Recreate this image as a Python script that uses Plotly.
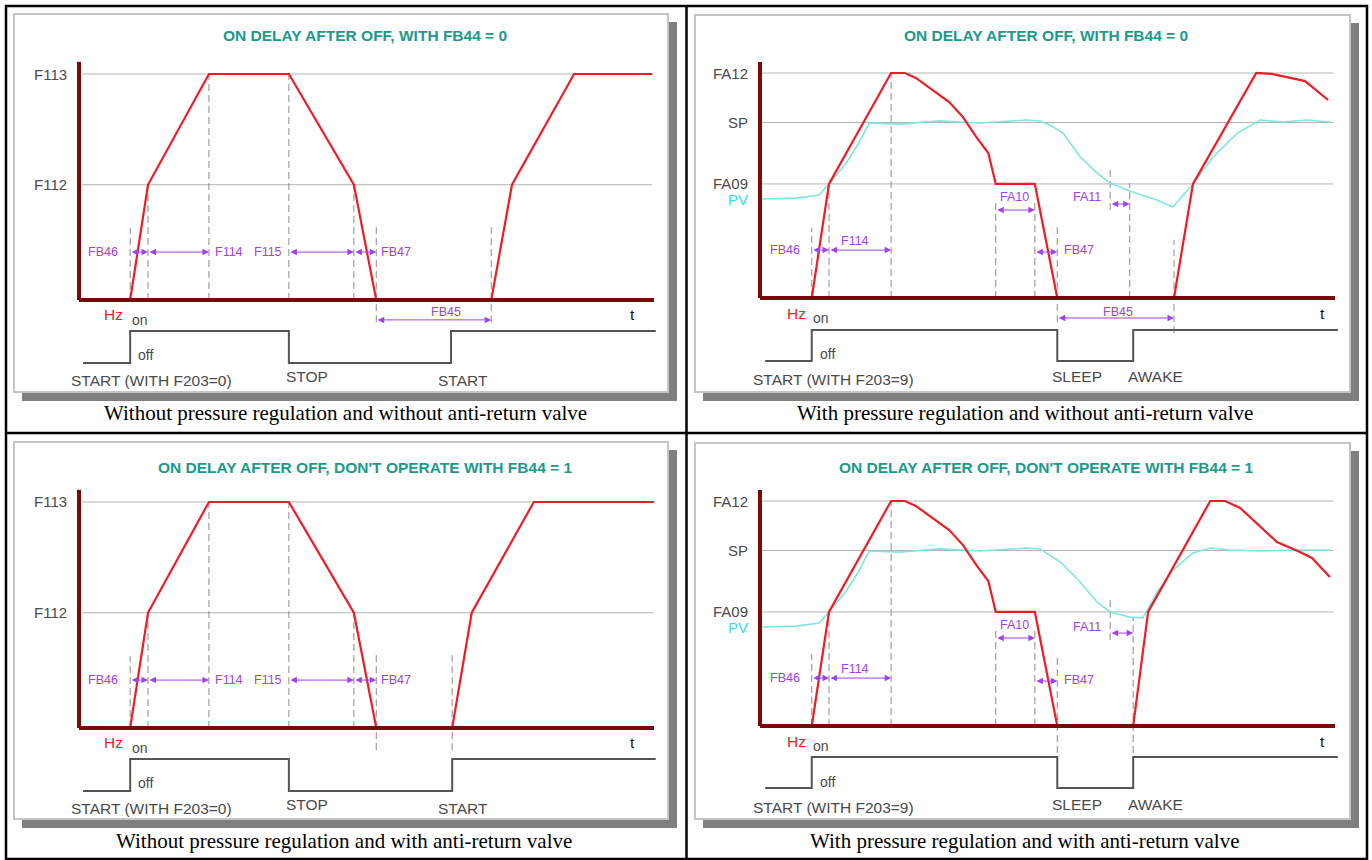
import plotly.graph_objects as go

W, H = 1372, 860

# ---------------- data (t in % of time axis; left: Hz, right: % of FA12) ----------------
F112, F113 = 25.5, 50
FA09, SP, FA12, PV0 = 50.7, 78, 100, 44

# red output frequency
tl_t = [8.9, 12.0, 22.6, 36.5, 47.8, 51.7, 71.7, 75.3, 86.1, 99.7]
tl_hz = [0, F112, F113, F113, F112, 0, 0, F112, F113, F113]
bl_t = [8.9, 12.0, 22.6, 36.5, 47.8, 51.7, 64.9, 68.3, 79.1, 100]
bl_hz = [0, F112, F113, F113, F112, 0, 0, F112, F113, F113]
tr_t = [9.0, 12.0, 22.8, 25.2, 27.1, 30.1, 32.9, 35.3, 37.6, 39.7, 41.0, 47.8, 51.7,
        72.0, 75.3, 86.3, 89.0, 94.8, 98.8]
tr_hz = [0, FA09, FA12, FA12, 97.8, 92.4, 87.1, 80.4, 71.6, 64.4, FA09, FA09, 0,
         0, FA09, FA12, 99.6, 96.4, 88.0]
br_t = [9.0, 12.0, 22.8, 25.2, 27.1, 30.1, 32.9, 35.3, 37.6, 39.7, 41.0, 47.8, 51.7,
        64.9, 67.5, 78.3, 80.9, 83.5, 89.9, 93.9, 96.0, 99.1]
br_hz = [0, FA09, FA12, FA12, 97.8, 92.4, 87.1, 80.4, 71.6, 64.4, FA09, FA09, 0,
         0, FA09, FA12, FA12, 96.9, 81.8, 77.3, 74.7, 66.2]

# cyan process value
tr_pv_t = [0.35, 6.3, 10.3, 12.0, 15.0, 17.2, 19.0, 24.3, 31.3, 38.3, 46.3, 48.7, 50.4,
           52.7, 55.7, 58.6, 60.9, 64.3, 69.0, 71.8, 75.3, 78.8, 83.0, 87.0, 90.9, 95.1, 99.1]
tr_pv = [PV0, 44.4, 45.8, 50.7, 60, 68.9, 77.8, 77.3, 78.7, 77.8, 79.1, 78.7, 76.9,
         73.3, 62.7, 55.6, 51.1, 47.6, 43.6, 40.4, 50.7, 62.7, 73.3, 79.1, 78.2, 79.1, 78.2]
br_pv_t = [0.35, 6.3, 10.3, 12.0, 15.0, 17.2, 19.0, 24.3, 31.3, 38.3, 46.3, 48.7, 52.2,
           55.7, 58.6, 60.9, 64.3, 66.6, 69.0, 71.8, 75.3, 78.3, 81.7, 87.0, 93.9, 99.1]
br_pv = [PV0, 44.4, 45.8, 50.7, 60, 68.9, 77.8, 77.3, 78.7, 77.8, 79.1, 78.7, 72.9,
         64.0, 55.1, 50.7, 48.4, 48.0, 59.1, 69.3, 76.9, 79.1, 78.2, 77.8, 78.2, 78.2]

# start / stop command (1 = on, 0 = off)
sig_state = [0, 0, 1, 1, 0, 0, 1, 1]
tl_sig_t = [0.7, 8.9, 8.9, 36.5, 36.5, 64.7, 64.7, 100.3]
bl_sig_t = [0.7, 8.9, 8.9, 36.5, 36.5, 64.9, 64.9, 100.3]
tr_sig_t = [0.9, 9.0, 9.0, 51.7, 51.7, 64.9, 64.9, 100.5]
br_sig_t = [0.9, 9.0, 9.0, 51.7, 51.7, 64.9, 64.9, 100.5]

# dashed time markers: time, top level, bottom level
tl_mark_t = [8.9, 12.0, 22.6, 36.5, 47.8, 51.7, 71.7]
tl_mark_top = [15.9, F112, F113, F113, F112, 16.6, 16.6]
tl_mark_bot = [0, 0, 0, 0, 0, -4.9, -4.9]
bl_mark_t = [8.9, 12.0, 22.6, 36.5, 47.8, 51.7, 64.9]
bl_mark_top = [15.9, F112, F113, F113, F112, 16.6, 17.0]
bl_mark_bot = [0, 0, 0, 0, 0, -4.9, -4.9]
tr_mark_t = [9.0, 12.0, 22.8, 41.0, 47.8, 51.7, 60.9, 64.3, 72.0]
tr_mark_top = [31.1, FA09, FA12, 43.6, 43.6, 32.4, 56.9, 51.1, 25.8]
tr_mark_bot = [0, 0, 0, 0, 0, -10.7, 39.1, 0, -15.6]
br_mark_t = [9.0, 12.0, 22.8, 41.0, 47.8, 51.7, 60.9, 64.9]
br_mark_top = [32.0, FA09, FA12, 43.6, 43.6, 32.0, 56.9, 48.0]
br_mark_bot = [0, 0, 0, 0, 0, -12.0, 38.2, -12.0]

# timing arrows: start, end, level
tl_arr = [(8.9, 12.0, 10.6), (12.0, 22.6, 10.6), (36.5, 47.8, 10.6), (47.8, 51.7, 10.6), (51.7, 71.7, -4.4)]
bl_arr = [(8.9, 12.0, 10.6), (12.0, 22.6, 10.6), (36.5, 47.8, 10.6), (47.8, 51.7, 10.6)]
tr_arr = [(9.0, 12.0, 21.3), (12.0, 22.8, 21.3), (41.0, 47.8, 39.1), (60.9, 64.3, 41.8),
          (47.8, 51.7, 20.4), (51.7, 72.0, -8.9)]
br_arr = [(9.0, 12.0, 21.3), (12.0, 22.8, 21.3), (41.0, 47.8, 39.1), (60.9, 64.9, 41.3),
          (47.8, 51.7, 20.0)]

# parameter labels
tl_par = [("FB46", 7.1, 10.6, "right"), ("F114", 23.3, 10.6, "left"), ("F115", 35.7, 10.6, "right"),
          ("FB47", 52.2, 10.6, "left"), ("FB45", 63.8, -2.65, "center")]
bl_par = tl_par[:4]
tr_par = [("FB46", 7.3, 21.3, "right"), ("F114", 16.6, 25.3, "center"), ("FA10", 44.3, 44.9, "center"),
          ("FA11", 59.7, 44.9, "right"), ("FB47", 52.5, 21.3, "left"), ("FB45", 62.3, -6.2, "center")]
br_par = [("FB46", 7.3, 21.3, "right"), ("F114", 16.6, 25.3, "center"), ("FA10", 44.3, 44.9, "center"),
          ("FA11", 59.7, 44.0, "right"), ("FB47", 52.5, 20.4, "left")]

left_levels = [("F113", F113), ("F112", F112)]
right_levels = [("FA12", FA12), ("SP", SP), ("FA09", FA09)]

left_words = [("Hz", 6.0, -3.3), ("on", 10.6, -4.4), ("off", 11.5, -12.2), ("t", 96.2, -3.3),
              ("START (WITH F203=0)", 12.6, -17.7), ("STOP", 39.7, -17.0), ("START", 66.8, -17.7)]
right_words = [("Hz", 6.4, -6.7), ("on", 10.6, -8.9), ("off", 11.8, -24.9), ("t", 97.9, -6.7),
               ("START (WITH F203=9)", 12.8, -36.4), ("SLEEP", 55.1, -35.1), ("AWAKE", 68.7, -35.1)]

titles = ["ON DELAY AFTER OFF, WITH FB44 = 0", "ON DELAY AFTER OFF, WITH FB44 = 0",
          "ON DELAY AFTER OFF, DON'T OPERATE WITH FB44 = 1", "ON DELAY AFTER OFF, DON'T OPERATE WITH FB44 = 1"]
captions = ["Without pressure regulation and without anti-return valve",
            "With pressure regulation and without anti-return valve",
            "Without pressure regulation and with anti-return valve",
            "With pressure regulation and with anti-return valve"]

# ---------------- geometry (pixels) ----------------
SX = 5.75
panels = [
    dict(ox=79, oy=300, sy=4.52, hi=331, lo=363, box=(14, 14, 668, 392), ymax=52.7, title=(365, 36), cap=(345, 413),
         red=(tl_t, tl_hz), pv=None, sig=tl_sig_t, marks=(tl_mark_t, tl_mark_top, tl_mark_bot),
         arr=tl_arr, par=tl_par, levels=left_levels, words=left_words, tr=(0.5, 99.7)),
    dict(ox=760, oy=298, sy=2.25, hi=330, lo=361, box=(695, 15, 1350, 392), ymax=104.9, title=(1046, 36), cap=(1025, 413),
         red=(tr_t, tr_hz), pv=(tr_pv_t, tr_pv), sig=tr_sig_t, marks=(tr_mark_t, tr_mark_top, tr_mark_bot),
         arr=tr_arr, par=tr_par, levels=right_levels, words=right_words, tr=(0.3, 99.7)),
    dict(ox=79, oy=728, sy=4.52, hi=759, lo=791, box=(14, 442, 668, 819), ymax=52.7, title=(365, 467), cap=(344, 841),
         red=(bl_t, bl_hz), pv=None, sig=bl_sig_t, marks=(bl_mark_t, bl_mark_top, bl_mark_bot),
         arr=bl_arr, par=bl_par, levels=left_levels, words=left_words, tr=(0.5, 100)),
    dict(ox=760, oy=726, sy=2.25, hi=757, lo=788, box=(695, 443, 1350, 819), ymax=104.9, title=(1046, 467), cap=(1025, 841),
         red=(br_t, br_hz), pv=(br_pv_t, br_pv), sig=br_sig_t, marks=(br_mark_t, br_mark_top, br_mark_bot),
         arr=br_arr, par=br_par, levels=right_levels, words=right_words, tr=(0.3, 99.7)),
]

SANS = "Liberation Sans, Arial, sans-serif"
SERIF = "Liberation Serif, Times New Roman, serif"
GRAY_TXT = "#4a4a4a"
PURPLE = "#a040f0"
RED = "#ee1d25"
MAROON = "#7a0a0a"
CYAN = "#7fe6df"
TEAL = "#1b9a8c"

fig = go.Figure()
shapes, annos, layout = [], [], {}

def px(x):
    return x / W

def py(y):
    return 1 - y / H

for i, p in enumerate(panels):
    n = i + 1
    sfx = "" if n == 1 else str(n)
    xr, yr, sr = "x" + sfx, "y" + sfx, "y" + str(n + 4)
    bx0, by0, bx1, by1 = p["box"]
    ox, oy, sy, hi, lo = p["ox"], p["oy"], p["sy"], p["hi"], p["lo"]
    dom_y = [py(by1), py(by0)]
    layout["xaxis" + sfx] = dict(domain=[px(bx0), px(bx1)], range=[(bx0 - ox) / SX, (bx1 - ox) / SX],
                                 visible=False, anchor=yr)
    layout["yaxis" + sfx] = dict(domain=dom_y, range=[(oy - by1) / sy, (oy - by0) / sy],
                                 visible=False, anchor=xr)
    layout["yaxis" + str(n + 4)] = dict(range=[(lo - by1) / (lo - hi), (lo - by0) / (lo - hi)],
                                        visible=False, overlaying=yr, anchor=xr)

    # shadow + frame
    shapes.append(dict(type="rect", xref="paper", yref="paper", x0=px(bx0 + 8), x1=px(bx1 + 9),
                       y0=py(by1 + 9), y1=py(by0 + 8), fillcolor="#7f7f7f", line=dict(width=0), layer="below"))
    shapes.append(dict(type="rect", xref="paper", yref="paper", x0=px(bx0), x1=px(bx1),
                       y0=py(by1), y1=py(by0), fillcolor="white", line=dict(color="#c4c4c4", width=2), layer="below"))

    # reference levels
    for name, lev in p["levels"]:
        shapes.append(dict(type="line", xref=xr, yref=yr, x0=p["tr"][0], x1=p["tr"][1], y0=lev, y1=lev,
                           line=dict(color="#b4b4b4", width=1), layer="below"))
        annos.append(dict(xref=xr, yref=yr, x=-1.8, y=lev, text=name, showarrow=False, xanchor="right",
                          font=dict(family=SANS, size=15, color=GRAY_TXT)))
    if p["pv"] is not None:
        annos.append(dict(xref=xr, yref=yr, x=-1.8, y=PV0, text="PV", showarrow=False, xanchor="right",
                          font=dict(family=SANS, size=15, color="#33dede")))

    # dashed markers
    for t, top, bot in zip(*p["marks"]):
        shapes.append(dict(type="line", xref=xr, yref=yr, x0=t, x1=t, y0=bot, y1=top,
                           line=dict(color="#8c8c8c", width=1, dash="7px,4px"), layer="below"))

    # curves
    if p["pv"] is not None:
        fig.add_trace(go.Scatter(x=p["pv"][0], y=p["pv"][1], mode="lines", xaxis=xr, yaxis=yr,
                                 line=dict(color=CYAN, width=1.6), hoverinfo="skip"))
    fig.add_trace(go.Scatter(x=p["red"][0], y=p["red"][1], mode="lines", xaxis=xr, yaxis=yr,
                             line=dict(color=RED, width=2.2), hoverinfo="skip"))
    fig.add_trace(go.Scatter(x=p["sig"], y=sig_state, mode="lines", xaxis=xr, yaxis=sr,
                             line=dict(color="#555555", width=2), hoverinfo="skip"))

    # axes (maroon)
    shapes.append(dict(type="line", xref=xr, yref=yr, x0=0, x1=100, y0=0, y1=0,
                       line=dict(color=MAROON, width=4), layer="above"))
    shapes.append(dict(type="line", xref=xr, yref=yr, x0=0, x1=0, y0=0, y1=p["ymax"],
                       line=dict(color=MAROON, width=4), layer="above"))

    # timing arrows
    for t0, t1, lev in p["arr"]:
        annos.append(dict(xref=xr, yref=yr, axref=xr, ayref=yr, x=t1, y=lev, ax=t0, ay=lev, text="",
                          showarrow=True, arrowside="end+start", arrowhead=2, arrowsize=1.3,
                          arrowwidth=1, arrowcolor=PURPLE, standoff=0, startstandoff=0))
    for txt, t, lev, anc in p["par"]:
        annos.append(dict(xref=xr, yref=yr, x=t, y=lev, text=txt, showarrow=False, xanchor=anc,
                          font=dict(family=SANS, size=12.5, color=PURPLE)))

    # words
    for txt, t, lev in p["words"]:
        col = RED if txt == "Hz" else ("#111111" if txt == "t" else GRAY_TXT)
        size = 14 if txt in ("on", "off") else 15.5
        annos.append(dict(xref=xr, yref=yr, x=t, y=lev, text=txt, showarrow=False, xanchor="center",
                          font=dict(family=SANS, size=size, color=col)))

    # title + caption
    annos.append(dict(xref="paper", yref="paper", x=px(p["title"][0]), y=py(p["title"][1]),
                      text="<b>" + titles[i] + "</b>", showarrow=False, xanchor="center", yanchor="middle",
                      font=dict(family=SANS, size=15.5, color=TEAL)))
    annos.append(dict(xref="paper", yref="paper", x=px(p["cap"][0]), y=py(p["cap"][1]), text=captions[i],
                      showarrow=False, xanchor="center", yanchor="middle",
                      font=dict(family=SERIF, size=21, color="#000000")))

# table grid
shapes.append(dict(type="rect", xref="paper", yref="paper", x0=px(6), x1=px(1367), y0=py(859), y1=py(6),
                   line=dict(color="black", width=2.5), layer="above"))
shapes.append(dict(type="line", xref="paper", yref="paper", x0=px(686.5), x1=px(686.5), y0=py(859), y1=py(6),
                   line=dict(color="black", width=2.5), layer="above"))
shapes.append(dict(type="line", xref="paper", yref="paper", x0=px(6), x1=px(1367), y0=py(433), y1=py(433),
                   line=dict(color="black", width=2.5), layer="above"))

fig.update_layout(width=W, height=H, margin=dict(l=0, r=0, t=0, b=0), template="none",
                  paper_bgcolor="white", plot_bgcolor="rgba(0,0,0,0)", showlegend=False,
                  shapes=shapes, annotations=annos, **layout)

fig.write_html("out.html", config={"displayModeBar": False},
               post_script="document.body.style.margin='0px';")
